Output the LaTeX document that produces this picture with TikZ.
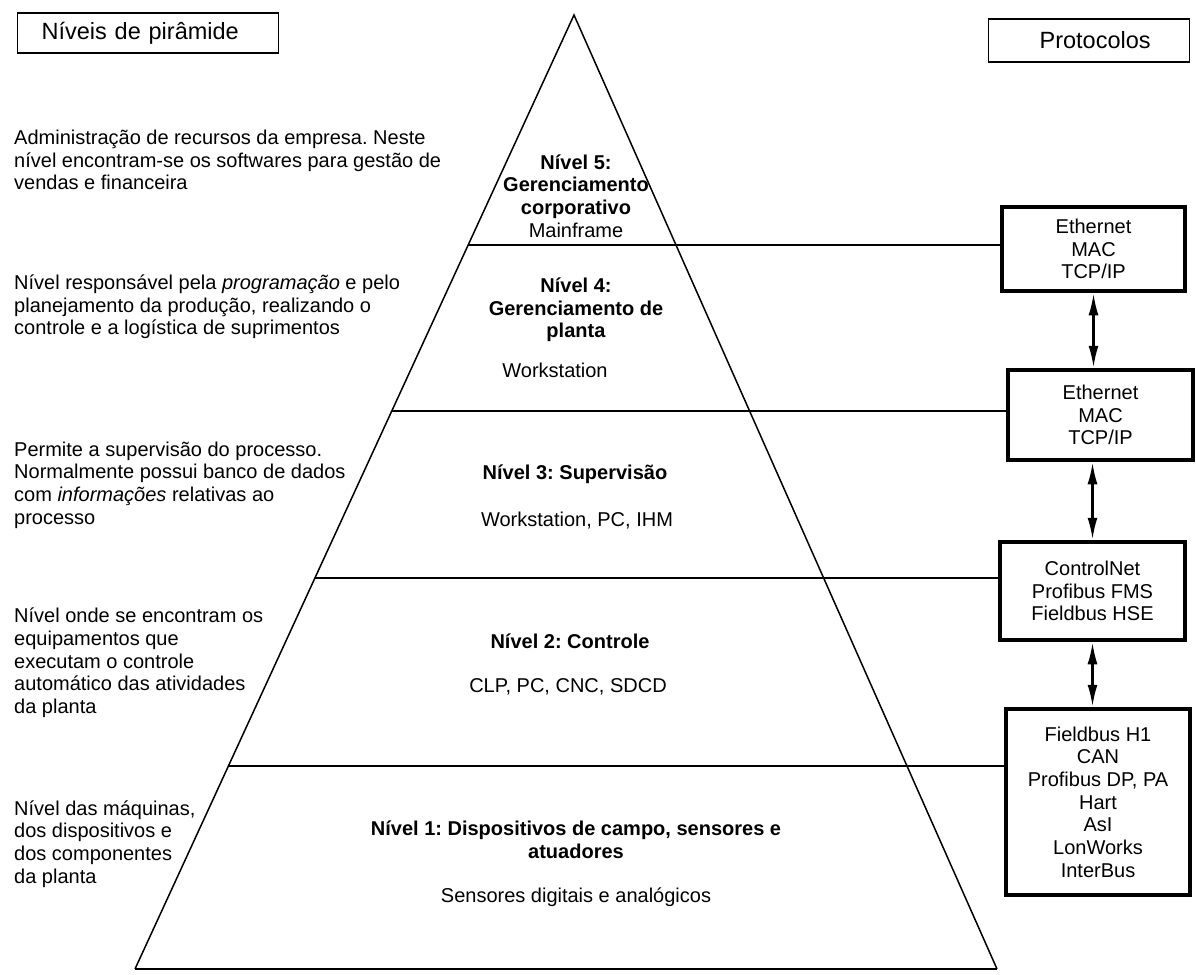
\documentclass[tikz,border=0pt]{standalone}
\usepackage{fontspec}
\setmainfont{Liberation Sans}
\setsansfont{Liberation Sans}
\usetikzlibrary{arrows.meta,calc}
\begin{document}
\frenchspacing
\begin{tikzpicture}[x=1pt,y=-1pt,
  body/.style={font=\fontsize{20}{22.7}\selectfont, inner sep=0pt},
  lefttext/.style={body, anchor=west, align=left},
  centertext/.style={body, align=center},
  titlebox/.style={draw, line width=1.2pt, inner sep=0pt, align=left,
    font=\fontsize{23.5}{27}\selectfont},
  protobox/.style={draw, line width=4.5pt, body, align=center},
  pyredge/.style={line width=1.5pt, line join=miter},
  levelline/.style={line width=2pt},
  link/.style={line width=2.5pt, {Latex[length=22pt,width=10pt]}-{Latex[length=22pt,width=10pt]}}
]
\useasboundingbox (0,0) rectangle (1196,974);
\fill[white] (0,0) rectangle (1196,974);

% title boxes
\node[titlebox, text width=261pt, minimum height=40pt, anchor=west] (tleft) at (17,33)
  {\hspace*{24pt}Níveis de pirâmide};
\node[titlebox, text width=201pt, minimum height=43pt, anchor=west] (tright) at (988,40.5)
  {\hspace*{51pt}Protocolos};

% pyramid
\coordinate (apex) at (574,15);
\coordinate (bl) at (135,969);
\coordinate (br) at (997,969);
\draw[pyredge] (bl) -- (apex) -- (br);
\draw[levelline] (bl) -- (br);

% protocol boxes
\node[protobox, minimum width=183pt, minimum height=84pt] (b1) at (1093.5,249)
  {Ethernet\\MAC\\TCP/IP};
\node[protobox, minimum width=185pt, minimum height=90pt] (b2) at (1100.5,415)
  {Ethernet\\MAC\\TCP/IP};
\node[protobox, minimum width=185pt, minimum height=98pt] (b3) at (1092.5,591)
  {ControlNet\\Profibus FMS\\Fieldbus HSE};
\node[protobox, minimum width=184pt, minimum height=186pt] (b4) at (1098,802)
  {Fieldbus H1\\CAN\\Profibus DP, PA\\Hart\\AsI\\LonWorks\\InterBus};

% level lines
\coordinate (l5) at ($(apex)!0.2411!(bl)$);
\coordinate (l4) at ($(apex)!0.4151!(bl)$);
\coordinate (l3) at ($(apex)!0.5901!(bl)$);
\coordinate (l2) at ($(apex)!0.7872!(bl)$);
\draw[levelline] (l5) -- (l5 -| b1.west);
\draw[levelline] (l4) -- (l4 -| b2.west);
\draw[levelline] (l3) -- (l3 -| b3.west);
\draw[levelline] (l2) -- (l2 -| b4.west);

% links between protocol boxes
\draw[link] (b1.south) -- (b1.south |- b2.north);
\draw[link] (b3.north |- b2.south) -- (b3.north);
\draw[link] (b3.south) -- (b3.south |- b4.north);

% level texts
\node[centertext] (n5) at (576,196)
  {\textbf{Nível 5:}\\\textbf{Gerenciamento}\\\textbf{corporativo}\\Mainframe};
\node[centertext] (n4) at (576,310)
  {\textbf{Nível 4:}\\\textbf{Gerenciamento de}\\\textbf{planta}};
\node[centertext] (n4d) at (555,370) {Workstation};
\node[centertext] (n3) at (575,474) {\textbf{Nível 3: Supervisão}};
\node[centertext] (n3d) at (577,521) {Workstation, PC, IHM};
\node[centertext] (n2) at (570,641) {\textbf{Nível 2: Controle}};
\node[centertext] (n2d) at (568,687) {CLP, PC, CNC, SDCD};
\node[centertext] (n1) at (576,840)
  {\textbf{Nível 1: Dispositivos de campo, sensores e}\\\textbf{atuadores}};
\node[centertext] (n1d) at (576,897) {Sensores digitais e analógicos};

% left descriptions
\node[lefttext] (d5) at (14,160)
  {Administração de recursos da empresa. Neste\\nível encontram-se os softwares para gestão de\\vendas e financeira};
\node[lefttext] (d4) at (14,307)
  {Nível responsável pela \textit{programação} e pelo\\planejamento da produção, realizando o\\controle e a logística de suprimentos};
\node[lefttext] (d3) at (14,485)
  {Permite a supervisão do processo.\\Normalmente possui banco de dados\\com \textit{informações} relativas ao\\processo};
\node[lefttext] (d2) at (14,663)
  {Nível onde se encontram os\\equipamentos que\\executam o controle\\automático das atividades\\da planta};
\node[lefttext] (d1) at (14,844)
  {Nível das máquinas,\\dos dispositivos e\\dos componentes\\da planta};
\end{tikzpicture}
\end{document}
